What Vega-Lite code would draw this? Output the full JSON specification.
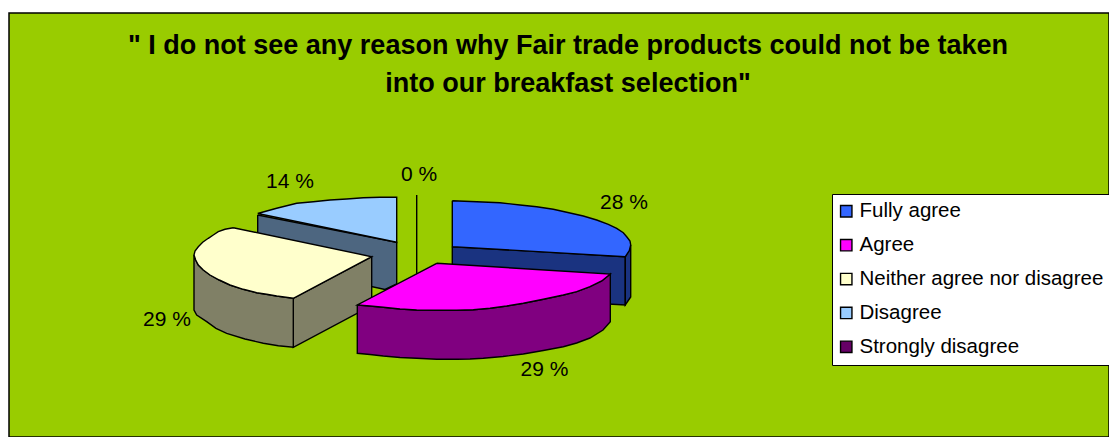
{
  "$schema": "https://vega.github.io/schema/vega-lite/v6.json",
  "width": 1100,
  "height": 424,
  "autosize": "none",
  "padding": {"left": 9, "top": 13, "right": 0, "bottom": 0},
  "background": "white",
  "view": {"fill": "#99CC00", "stroke": "black", "strokeWidth": 1.5},
  "title": {
    "text": ["\" I do not see any reason why Fair trade products could not be taken", "into our breakfast selection\""],
    "orient": "top",
    "anchor": "middle",
    "frame": "group",
    "dx": 9,
    "offset": -85,
    "font": "Liberation Sans",
    "fontSize": 27,
    "fontWeight": "bold",
    "color": "black",
    "lineHeight": 38
  },
  "datasets": {
    "outline": [
      {"piece": "d-side", "face": "Disagree side", "seq": 1, "x": 257.7, "y": 215},
      {"piece": "d-side", "face": "Disagree side", "seq": 2, "x": 396.7, "y": 242.3},
      {"piece": "d-side", "face": "Disagree side", "seq": 3, "x": 396.7, "y": 284},
      {"piece": "d-side", "face": "Disagree side", "seq": 4, "x": 385, "y": 289.5},
      {"piece": "d-side", "face": "Disagree side", "seq": 5, "x": 257.7, "y": 262},
      {"piece": "d-side", "face": "Disagree side", "seq": 6, "x": 257.7, "y": 215},
      {"piece": "d-top", "face": "Disagree", "seq": 1, "x": 257.7, "y": 213.5},
      {"piece": "d-top", "face": "Disagree", "seq": 2, "x": 276.7, "y": 208.3},
      {"piece": "d-top", "face": "Disagree", "seq": 3, "x": 296.7, "y": 203.3},
      {"piece": "d-top", "face": "Disagree", "seq": 4, "x": 313.3, "y": 201.7},
      {"piece": "d-top", "face": "Disagree", "seq": 5, "x": 330, "y": 200},
      {"piece": "d-top", "face": "Disagree", "seq": 6, "x": 346.7, "y": 199},
      {"piece": "d-top", "face": "Disagree", "seq": 7, "x": 363.3, "y": 197.7},
      {"piece": "d-top", "face": "Disagree", "seq": 8, "x": 380, "y": 197.3},
      {"piece": "d-top", "face": "Disagree", "seq": 9, "x": 396.7, "y": 197.3},
      {"piece": "d-top", "face": "Disagree", "seq": 10, "x": 396.7, "y": 242.3},
      {"piece": "d-top", "face": "Disagree", "seq": 11, "x": 257.7, "y": 213.5},
      {"piece": "s-zero", "face": "Strongly disagree", "seq": 1, "x": 416.7, "y": 195},
      {"piece": "s-zero", "face": "Strongly disagree", "seq": 2, "x": 416.7, "y": 276},
      {"piece": "f-side", "face": "Fully agree side", "seq": 1, "x": 452.3, "y": 246.7},
      {"piece": "f-side", "face": "Fully agree side", "seq": 2, "x": 625.3, "y": 256.7},
      {"piece": "f-side", "face": "Fully agree side", "seq": 3, "x": 625.3, "y": 305},
      {"piece": "f-side", "face": "Fully agree side", "seq": 4, "x": 452.3, "y": 295},
      {"piece": "f-side", "face": "Fully agree side", "seq": 5, "x": 452.3, "y": 246.7},
      {"piece": "f-rim", "face": "Fully agree side", "seq": 1, "x": 625.3, "y": 256.7},
      {"piece": "f-rim", "face": "Fully agree side", "seq": 2, "x": 630.7, "y": 245},
      {"piece": "f-rim", "face": "Fully agree side", "seq": 3, "x": 630.7, "y": 297},
      {"piece": "f-rim", "face": "Fully agree side", "seq": 4, "x": 625.3, "y": 305},
      {"piece": "f-rim", "face": "Fully agree side", "seq": 5, "x": 625.3, "y": 256.7},
      {"piece": "f-top", "face": "Fully agree", "seq": 1, "x": 452.3, "y": 200.7},
      {"piece": "f-top", "face": "Fully agree", "seq": 2, "x": 476.7, "y": 201.7},
      {"piece": "f-top", "face": "Fully agree", "seq": 3, "x": 500, "y": 202.7},
      {"piece": "f-top", "face": "Fully agree", "seq": 4, "x": 520, "y": 205},
      {"piece": "f-top", "face": "Fully agree", "seq": 5, "x": 536.7, "y": 206.7},
      {"piece": "f-top", "face": "Fully agree", "seq": 6, "x": 553.3, "y": 209.3},
      {"piece": "f-top", "face": "Fully agree", "seq": 7, "x": 566.7, "y": 212.3},
      {"piece": "f-top", "face": "Fully agree", "seq": 8, "x": 583.3, "y": 216},
      {"piece": "f-top", "face": "Fully agree", "seq": 9, "x": 596.7, "y": 220},
      {"piece": "f-top", "face": "Fully agree", "seq": 10, "x": 608.3, "y": 224.3},
      {"piece": "f-top", "face": "Fully agree", "seq": 11, "x": 616.7, "y": 228.3},
      {"piece": "f-top", "face": "Fully agree", "seq": 12, "x": 623.3, "y": 232.7},
      {"piece": "f-top", "face": "Fully agree", "seq": 13, "x": 626.7, "y": 236.7},
      {"piece": "f-top", "face": "Fully agree", "seq": 14, "x": 630, "y": 241},
      {"piece": "f-top", "face": "Fully agree", "seq": 15, "x": 630.7, "y": 245},
      {"piece": "f-top", "face": "Fully agree", "seq": 16, "x": 629.3, "y": 250.7},
      {"piece": "f-top", "face": "Fully agree", "seq": 17, "x": 625.3, "y": 256.7},
      {"piece": "f-top", "face": "Fully agree", "seq": 18, "x": 452.3, "y": 246.7},
      {"piece": "f-top", "face": "Fully agree", "seq": 19, "x": 452.3, "y": 200.7},
      {"piece": "n-right", "face": "Neither side", "seq": 1, "x": 293.3, "y": 298.3},
      {"piece": "n-right", "face": "Neither side", "seq": 2, "x": 371.7, "y": 256.7},
      {"piece": "n-right", "face": "Neither side", "seq": 3, "x": 371.7, "y": 305.7},
      {"piece": "n-right", "face": "Neither side", "seq": 4, "x": 293.3, "y": 347.3},
      {"piece": "n-right", "face": "Neither side", "seq": 5, "x": 293.3, "y": 298.3},
      {"piece": "n-rim", "face": "Neither side", "seq": 1, "x": 194, "y": 255},
      {"piece": "n-rim", "face": "Neither side", "seq": 2, "x": 195.7, "y": 260},
      {"piece": "n-rim", "face": "Neither side", "seq": 3, "x": 198.3, "y": 265},
      {"piece": "n-rim", "face": "Neither side", "seq": 4, "x": 203.3, "y": 270},
      {"piece": "n-rim", "face": "Neither side", "seq": 5, "x": 210, "y": 275},
      {"piece": "n-rim", "face": "Neither side", "seq": 6, "x": 219.3, "y": 280},
      {"piece": "n-rim", "face": "Neither side", "seq": 7, "x": 230, "y": 285},
      {"piece": "n-rim", "face": "Neither side", "seq": 8, "x": 243.3, "y": 289.3},
      {"piece": "n-rim", "face": "Neither side", "seq": 9, "x": 256.7, "y": 292.7},
      {"piece": "n-rim", "face": "Neither side", "seq": 10, "x": 276.7, "y": 296},
      {"piece": "n-rim", "face": "Neither side", "seq": 11, "x": 293.3, "y": 298.3},
      {"piece": "n-rim", "face": "Neither side", "seq": 12, "x": 293.3, "y": 347.3},
      {"piece": "n-rim", "face": "Neither side", "seq": 13, "x": 278.3, "y": 345.7},
      {"piece": "n-rim", "face": "Neither side", "seq": 14, "x": 263.3, "y": 343.3},
      {"piece": "n-rim", "face": "Neither side", "seq": 15, "x": 245, "y": 339},
      {"piece": "n-rim", "face": "Neither side", "seq": 16, "x": 226.7, "y": 333.3},
      {"piece": "n-rim", "face": "Neither side", "seq": 17, "x": 216, "y": 328.3},
      {"piece": "n-rim", "face": "Neither side", "seq": 18, "x": 206.7, "y": 321.7},
      {"piece": "n-rim", "face": "Neither side", "seq": 19, "x": 196.7, "y": 315},
      {"piece": "n-rim", "face": "Neither side", "seq": 20, "x": 194, "y": 310},
      {"piece": "n-rim", "face": "Neither side", "seq": 21, "x": 194, "y": 255},
      {"piece": "n-top", "face": "Neither agree nor disagree", "seq": 1, "x": 233.3, "y": 227.7},
      {"piece": "n-top", "face": "Neither agree nor disagree", "seq": 2, "x": 225, "y": 229.3},
      {"piece": "n-top", "face": "Neither agree nor disagree", "seq": 3, "x": 218.3, "y": 231.7},
      {"piece": "n-top", "face": "Neither agree nor disagree", "seq": 4, "x": 213.3, "y": 235},
      {"piece": "n-top", "face": "Neither agree nor disagree", "seq": 5, "x": 208.3, "y": 238.3},
      {"piece": "n-top", "face": "Neither agree nor disagree", "seq": 6, "x": 202.7, "y": 242.3},
      {"piece": "n-top", "face": "Neither agree nor disagree", "seq": 7, "x": 198.3, "y": 246.7},
      {"piece": "n-top", "face": "Neither agree nor disagree", "seq": 8, "x": 195, "y": 251},
      {"piece": "n-top", "face": "Neither agree nor disagree", "seq": 9, "x": 194, "y": 255},
      {"piece": "n-top", "face": "Neither agree nor disagree", "seq": 10, "x": 195.7, "y": 260},
      {"piece": "n-top", "face": "Neither agree nor disagree", "seq": 11, "x": 198.3, "y": 265},
      {"piece": "n-top", "face": "Neither agree nor disagree", "seq": 12, "x": 203.3, "y": 270},
      {"piece": "n-top", "face": "Neither agree nor disagree", "seq": 13, "x": 210, "y": 275},
      {"piece": "n-top", "face": "Neither agree nor disagree", "seq": 14, "x": 219.3, "y": 280},
      {"piece": "n-top", "face": "Neither agree nor disagree", "seq": 15, "x": 230, "y": 285},
      {"piece": "n-top", "face": "Neither agree nor disagree", "seq": 16, "x": 243.3, "y": 289.3},
      {"piece": "n-top", "face": "Neither agree nor disagree", "seq": 17, "x": 256.7, "y": 292.7},
      {"piece": "n-top", "face": "Neither agree nor disagree", "seq": 18, "x": 266.7, "y": 294.3},
      {"piece": "n-top", "face": "Neither agree nor disagree", "seq": 19, "x": 276.7, "y": 296},
      {"piece": "n-top", "face": "Neither agree nor disagree", "seq": 20, "x": 293.3, "y": 298.3},
      {"piece": "n-top", "face": "Neither agree nor disagree", "seq": 21, "x": 371.7, "y": 256.7},
      {"piece": "n-top", "face": "Neither agree nor disagree", "seq": 22, "x": 233.3, "y": 227.7},
      {"piece": "a-side", "face": "Agree side", "seq": 1, "x": 357.3, "y": 305},
      {"piece": "a-side", "face": "Agree side", "seq": 2, "x": 370, "y": 306},
      {"piece": "a-side", "face": "Agree side", "seq": 3, "x": 383.3, "y": 307.3},
      {"piece": "a-side", "face": "Agree side", "seq": 4, "x": 400, "y": 309},
      {"piece": "a-side", "face": "Agree side", "seq": 5, "x": 416.7, "y": 310},
      {"piece": "a-side", "face": "Agree side", "seq": 6, "x": 436.7, "y": 310.3},
      {"piece": "a-side", "face": "Agree side", "seq": 7, "x": 456.7, "y": 310.3},
      {"piece": "a-side", "face": "Agree side", "seq": 8, "x": 473.3, "y": 309.7},
      {"piece": "a-side", "face": "Agree side", "seq": 9, "x": 490, "y": 308.3},
      {"piece": "a-side", "face": "Agree side", "seq": 10, "x": 506.7, "y": 306},
      {"piece": "a-side", "face": "Agree side", "seq": 11, "x": 523.3, "y": 303.3},
      {"piece": "a-side", "face": "Agree side", "seq": 12, "x": 543.3, "y": 299.3},
      {"piece": "a-side", "face": "Agree side", "seq": 13, "x": 563.3, "y": 295},
      {"piece": "a-side", "face": "Agree side", "seq": 14, "x": 576.7, "y": 291.7},
      {"piece": "a-side", "face": "Agree side", "seq": 15, "x": 590, "y": 286.7},
      {"piece": "a-side", "face": "Agree side", "seq": 16, "x": 601.7, "y": 281},
      {"piece": "a-side", "face": "Agree side", "seq": 17, "x": 610.3, "y": 274},
      {"piece": "a-side", "face": "Agree side", "seq": 18, "x": 610.3, "y": 321.7},
      {"piece": "a-side", "face": "Agree side", "seq": 19, "x": 603, "y": 330},
      {"piece": "a-side", "face": "Agree side", "seq": 20, "x": 590, "y": 338},
      {"piece": "a-side", "face": "Agree side", "seq": 21, "x": 576.7, "y": 343},
      {"piece": "a-side", "face": "Agree side", "seq": 22, "x": 563.3, "y": 346.7},
      {"piece": "a-side", "face": "Agree side", "seq": 23, "x": 543.3, "y": 350.5},
      {"piece": "a-side", "face": "Agree side", "seq": 24, "x": 523.3, "y": 354},
      {"piece": "a-side", "face": "Agree side", "seq": 25, "x": 503, "y": 356.5},
      {"piece": "a-side", "face": "Agree side", "seq": 26, "x": 483.3, "y": 358.3},
      {"piece": "a-side", "face": "Agree side", "seq": 27, "x": 470, "y": 359},
      {"piece": "a-side", "face": "Agree side", "seq": 28, "x": 456.7, "y": 359.3},
      {"piece": "a-side", "face": "Agree side", "seq": 29, "x": 436.7, "y": 359.3},
      {"piece": "a-side", "face": "Agree side", "seq": 30, "x": 416.7, "y": 358.3},
      {"piece": "a-side", "face": "Agree side", "seq": 31, "x": 400, "y": 357.5},
      {"piece": "a-side", "face": "Agree side", "seq": 32, "x": 383.3, "y": 356},
      {"piece": "a-side", "face": "Agree side", "seq": 33, "x": 370, "y": 354.5},
      {"piece": "a-side", "face": "Agree side", "seq": 34, "x": 357.3, "y": 353.3},
      {"piece": "a-side", "face": "Agree side", "seq": 35, "x": 357.3, "y": 305},
      {"piece": "a-top", "face": "Agree", "seq": 1, "x": 436.7, "y": 263.3},
      {"piece": "a-top", "face": "Agree", "seq": 2, "x": 610.3, "y": 274},
      {"piece": "a-top", "face": "Agree", "seq": 3, "x": 601.7, "y": 281},
      {"piece": "a-top", "face": "Agree", "seq": 4, "x": 590, "y": 286.7},
      {"piece": "a-top", "face": "Agree", "seq": 5, "x": 576.7, "y": 291.7},
      {"piece": "a-top", "face": "Agree", "seq": 6, "x": 563.3, "y": 295},
      {"piece": "a-top", "face": "Agree", "seq": 7, "x": 543.3, "y": 299.3},
      {"piece": "a-top", "face": "Agree", "seq": 8, "x": 523.3, "y": 303.3},
      {"piece": "a-top", "face": "Agree", "seq": 9, "x": 506.7, "y": 306},
      {"piece": "a-top", "face": "Agree", "seq": 10, "x": 490, "y": 308.3},
      {"piece": "a-top", "face": "Agree", "seq": 11, "x": 473.3, "y": 309.7},
      {"piece": "a-top", "face": "Agree", "seq": 12, "x": 456.7, "y": 310.3},
      {"piece": "a-top", "face": "Agree", "seq": 13, "x": 436.7, "y": 310.3},
      {"piece": "a-top", "face": "Agree", "seq": 14, "x": 416.7, "y": 310},
      {"piece": "a-top", "face": "Agree", "seq": 15, "x": 400, "y": 309},
      {"piece": "a-top", "face": "Agree", "seq": 16, "x": 383.3, "y": 307.3},
      {"piece": "a-top", "face": "Agree", "seq": 17, "x": 370, "y": 306},
      {"piece": "a-top", "face": "Agree", "seq": 18, "x": 357.3, "y": 305},
      {"piece": "a-top", "face": "Agree", "seq": 19, "x": 436.7, "y": 263.3}
    ],
    "shares": [
      {"category": "Fully agree", "share": 28, "label": "28 %", "x": 624, "y": 203},
      {"category": "Agree", "share": 29, "label": "29 %", "x": 544.5, "y": 369.5},
      {"category": "Neither agree nor disagree", "share": 29, "label": "29 %", "x": 167, "y": 319.5},
      {"category": "Disagree", "share": 14, "label": "14 %", "x": 290, "y": 181.5},
      {"category": "Strongly disagree", "share": 0, "label": "0 %", "x": 419, "y": 174.5}
    ]
  },
  "layer": [
    {
      "data": {"name": "outline"},
      "mark": {"type": "line", "filled": true, "stroke": "black", "strokeWidth": 1.4, "strokeJoin": "miter", "clip": false},
      "encoding": {
        "x": {"field": "x", "type": "quantitative", "scale": {"domain": [9, 1109], "nice": false, "zero": false}, "axis": null},
        "y": {"field": "y", "type": "quantitative", "scale": {"domain": [437, 13], "nice": false, "zero": false}, "axis": null},
        "detail": {"field": "piece"},
        "order": {"field": "seq", "type": "quantitative"},
        "fill": {
          "field": "face",
          "type": "nominal",
          "scale": {
            "domain": ["Fully agree", "Agree", "Neither agree nor disagree", "Disagree", "Strongly disagree", "Fully agree side", "Agree side", "Neither side", "Disagree side"],
            "range": ["#3366FF", "#FF00FF", "#FFFFCC", "#99CCFF", "#660066", "#1A3380", "#800080", "#808066", "#4D6680"]
          },
          "legend": {
            "title": null,
            "values": ["Fully agree", "Agree", "Neither agree nor disagree", "Disagree", "Strongly disagree"],
            "orient": "none",
            "legendX": 823,
            "legendY": 181,
            "fillColor": "white",
            "strokeColor": "black",
            "padding": 7,
            "symbolType": "square",
            "symbolSize": 130,
            "symbolOffset": -3,
            "symbolStrokeColor": "black",
            "symbolStrokeWidth": 1.4,
            "labelFont": "Liberation Sans",
            "labelFontSize": 20.5,
            "labelColor": "black",
            "labelLimit": 400,
            "labelOffset": 3,
            "rowPadding": 12.9
          }
        }
      }
    },
    {
      "data": {"name": "shares"},
      "mark": {"type": "text", "font": "Liberation Sans", "fontSize": 21, "color": "black", "align": "center", "baseline": "middle"},
      "encoding": {
        "x": {"field": "x", "type": "quantitative"},
        "y": {"field": "y", "type": "quantitative"},
        "text": {"field": "label"}
      }
    }
  ]
}
